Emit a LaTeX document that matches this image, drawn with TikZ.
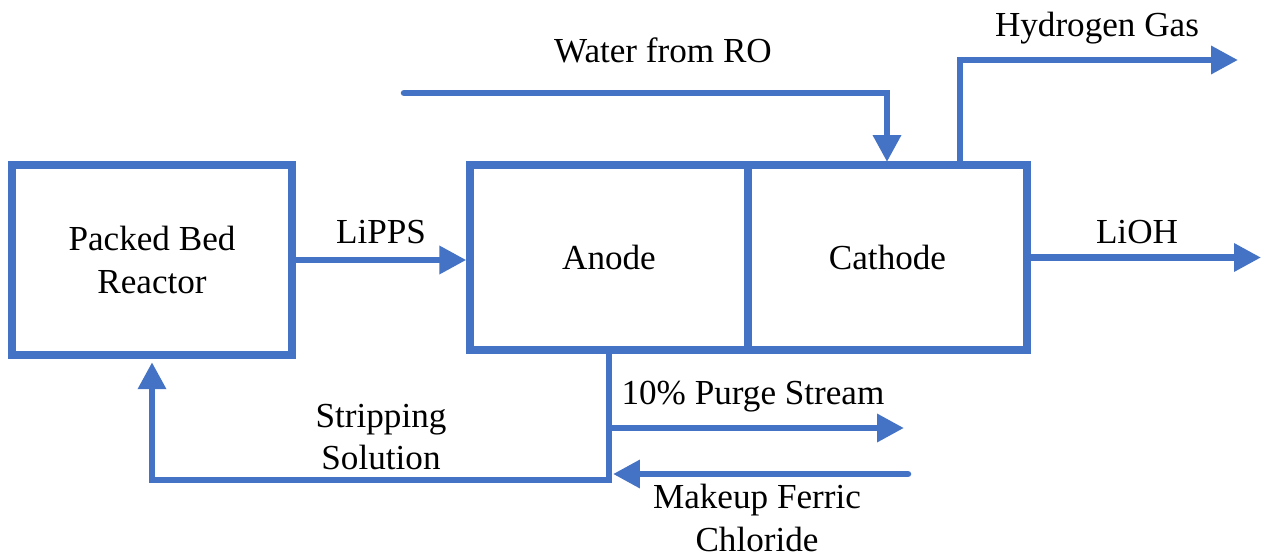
\documentclass[tikz,border=0pt]{standalone}
\usepackage{fontspec}
\setmainfont{Liberation Serif}
\usetikzlibrary{arrows.meta}
\definecolor{flowblue}{HTML}{4472C4}
\begin{document}
\begin{tikzpicture}[x=0.02cm,y=-0.02cm,
  unit/.style={draw=flowblue, line width=4.2pt, inner sep=0pt, align=center,
    font=\fontsize{20}{24}\selectfont},
  flow/.style={draw=flowblue, line width=3.7pt,
    -{Triangle[length=0.54cm,width=0.54cm]}},
  lbl/.style={font=\fontsize{20}{24}\selectfont, align=center, inner sep=0pt}]
  \useasboundingbox (0,0) rectangle (1262,558);

  % process units
  \node[unit, minimum width=5.6cm, minimum height=3.8cm] (pbr) at (152,260) {Packed Bed\\Reactor};
  \node[unit, minimum width=5.56cm, minimum height=3.7cm] (anode) at (609,257.5) {Anode};
  \node[unit, minimum width=5.58cm, minimum height=3.7cm] (cathode) at (887.5,257.5) {Cathode};

  % free stream ends
  \coordinate (wIn) at (404,93);
  \coordinate (wEnd) at (887,162);
  \coordinate (hStart) at (960,165);
  \coordinate (hOut) at (1238,60);
  \coordinate (lx) at (1261,0);
  \coordinate (sj) at (609,480);
  \coordinate (pj) at (609,428);
  \coordinate (pOut) at (904,428);
  \coordinate (mIn) at (908,474);
  \coordinate (mEnd) at (613,474);

  % streams
  \draw[flow] (pbr.east) -- (pbr.east -| anode.west);
  \draw[flow, line cap=round] (wIn) -| (wEnd);
  \draw[flow] (hStart) |- (hOut);
  \draw[flow] (cathode.east) -- (cathode.east -| lx);
  \draw[flow, shorten >=2pt] (anode.south) -- (sj) -| (pbr.south);
  \draw[flow] (pj) -- (pOut);
  \draw[flow, line cap=round] (mIn) -- (mEnd);

  % stream labels
  \node[lbl] (lLiPPS) at (381,232) {LiPPS};
  \node[lbl] (lWater) at (663,50) {Water from RO};
  \node[lbl] (lH2) at (1097,28) {Hydrogen Gas};
  \node[lbl] (lLiOH) at (1137,232) {LiOH};
  \node[lbl] (lPurge) at (753,397) {10\% Purge Stream};
  \node[lbl] (lStrip) at (381,437) {Stripping\\Solution};
  \node[lbl] (lMakeup) at (757,518) {Makeup Ferric\\Chloride};
\end{tikzpicture}
\end{document}
